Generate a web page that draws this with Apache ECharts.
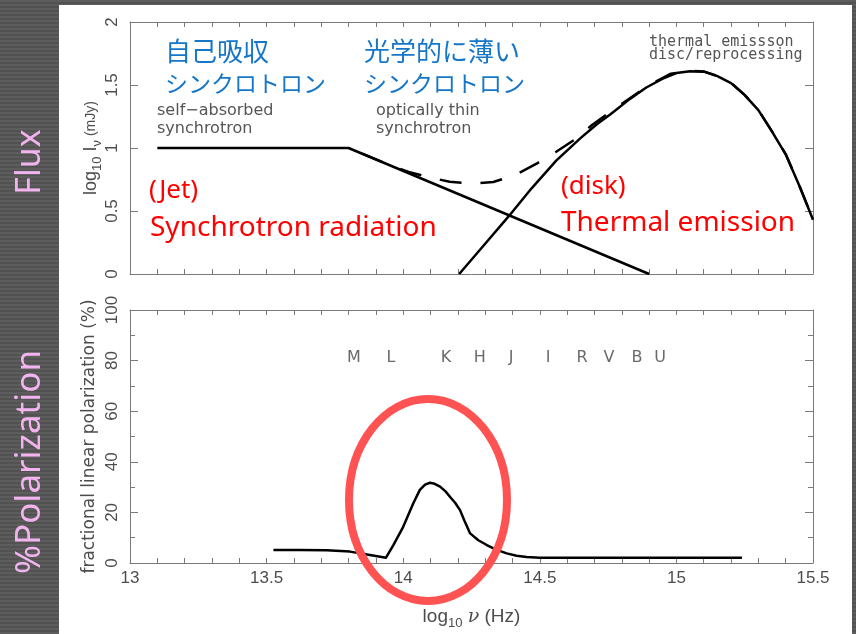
<!DOCTYPE html>
<html>
<head>
<meta charset="utf-8">
<script src="https://cdn.jsdelivr.net/npm/echarts@6/dist/echarts.min.js"></script>
<style>
  html, body { margin: 0; padding: 0; width: 856px; height: 634px; overflow: hidden; }
  body { background: repeating-linear-gradient(to bottom, #5d5d5d 0px, #5d5d5d 2px, #525252 2px, #525252 4px); position: relative; }
  #panel { position: absolute; left: 59px; top: 5px; width: 793px; height: 629px; background: #ffffff; }
  #chart { position: absolute; left: 0; top: 0; width: 856px; height: 634px; }
</style>
</head>
<body>
<div id="panel"></div>
<div id="chart"></div>
<script>
// ---- data ----
const xTickLabels = ['13', '13.5', '14', '14.5', '15', '15.5'];
const fluxTickLabels = ['0', '0.5', '1', '1.5', '2'];
const polTickLabels = ['0', '20', '40', '60', '80', '100'];

// self-absorbed / optically thin synchrotron (jet)
const jetX = [13.1, 13.8, 14.9];
const jetY = [1.0, 1.0, 0.0];

// thermal emission (disc / reprocessing)
const thermalX = [14.205, 14.3, 14.385, 14.47, 14.56, 14.65, 14.71, 14.76, 14.83, 14.89, 14.95, 15.0, 15.05, 15.1, 15.15, 15.2, 15.25, 15.3, 15.35, 15.4, 15.45, 15.5];
const thermalY = [0.0, 0.24, 0.455, 0.68, 0.9, 1.08, 1.19, 1.27, 1.39, 1.48, 1.55, 1.595, 1.61, 1.606, 1.57, 1.515, 1.42, 1.3, 1.13, 0.95, 0.7, 0.43];

// total (dashed)
const totalX = [13.85, 13.95, 14.02, 14.09, 14.17, 14.25, 14.33, 14.41, 14.49, 14.56, 14.63, 14.69, 14.76, 14.83, 14.9, 14.98, 15.05, 15.1, 15.15, 15.2, 15.25, 15.3, 15.35, 15.4, 15.45, 15.5];
const totalY = [0.955, 0.865, 0.81, 0.77, 0.732, 0.716, 0.73, 0.786, 0.878, 0.97, 1.07, 1.18, 1.29, 1.395, 1.5, 1.59, 1.612, 1.608, 1.572, 1.517, 1.422, 1.302, 1.132, 0.952, 0.702, 0.432];

// fractional linear polarization (%)
const polX = [13.525, 13.62, 13.72, 13.805, 13.878, 13.937, 13.964, 14.0, 14.037, 14.061, 14.08, 14.098, 14.115, 14.135, 14.155, 14.171, 14.19, 14.208, 14.225, 14.245, 14.275, 14.306, 14.34, 14.379, 14.415, 14.452, 14.5, 14.574, 14.8, 15.0, 15.24];
const polY = [5.1, 5.1, 5.0, 4.5, 3.2, 2.1, 7.1, 14.3, 23.6, 28.9, 31.0, 31.7, 31.3, 30.2, 28.3, 26.2, 23.8, 20.9, 16.5, 11.7, 9.0, 7.1, 5.3, 3.8, 2.9, 2.4, 2.1, 2.1, 2.1, 2.1, 2.1];

// photometric bands
const bandNames = ['M', 'L', 'K', 'H', 'J', 'I', 'R', 'V', 'B', 'U'];
const bandX = [13.82, 13.955, 14.157, 14.28, 14.395, 14.53, 14.655, 14.753, 14.856, 14.94];
const bandLevel = 81;

// ---- chart ----
const zip = (xs, ys) => xs.map((x, i) => [x, ys[i]]);
const AX = '#7a7a7a';
const TXT = '#4d4d4d';
const NUMFONT = 'Liberation Sans';

function xAxisCfg(gridIndex, position, showLabels, name) {
  const cfg = {
    type: 'value', gridIndex: gridIndex, position: position,
    min: 13, max: 15.5, interval: 0.5,
    axisLine: { show: true, onZero: false, lineStyle: { color: AX, width: 1 } },
    axisTick: { show: true, inside: true, length: 5, lineStyle: { color: AX, width: 1 } },
    minorTick: { show: true, splitNumber: 5, length: 5, lineStyle: { color: AX, width: 1 } },
    splitLine: { show: false },
    minorSplitLine: { show: false },
    axisLabel: {
      show: showLabels, margin: 7, color: TXT, fontSize: 17, fontFamily: NUMFONT,
      formatter: v => xTickLabels[Math.round((v - 13) / 0.5)] || ''
    }
  };
  if (name) {
    cfg.name = name;
    cfg.nameLocation = 'middle';
    cfg.nameGap = 41;
    cfg.nameMoveOverlap = false;
    cfg.nameTextStyle = {
      color: TXT, fontFamily: NUMFONT,
      rich: {
        a: { fontSize: 19, color: TXT, fontFamily: NUMFONT, lineHeight: 26 },
        s: { fontSize: 13, color: TXT, fontFamily: NUMFONT, verticalAlign: 'bottom', lineHeight: 15 },
        g: { fontSize: 19, color: TXT, fontFamily: 'DejaVu Serif', fontStyle: 'italic', lineHeight: 26 }
      }
    };
  }
  return cfg;
}

function yAxisCfg(gridIndex, position, max, interval, minorSplit, labels, name) {
  const cfg = {
    type: 'value', gridIndex: gridIndex, position: position,
    min: 0, max: max, interval: interval,
    axisLine: { show: true, onZero: false, lineStyle: { color: AX, width: 1 } },
    axisTick: { show: true, inside: true, length: 8, lineStyle: { color: AX, width: 1 } },
    minorTick: { show: minorSplit > 0, splitNumber: minorSplit || 1, length: 5, lineStyle: { color: AX, width: 1 } },
    splitLine: { show: false },
    minorSplitLine: { show: false },
    axisLabel: {
      show: !!labels, rotate: 90, margin: 9, color: TXT, fontSize: 17, fontFamily: NUMFONT,
      formatter: v => labels ? (labels[Math.round(v / interval)] || '') : ''
    }
  };
  if (name) {
    Object.assign(cfg, name);
  }
  return cfg;
}

const option = {
  animation: false,
  grid: [
    { left: 130, top: 22, width: 683, height: 252, containLabel: false, outerBoundsMode: 'none' },
    { left: 130, top: 310, width: 683, height: 253, containLabel: false, outerBoundsMode: 'none' }
  ],
  xAxis: [
    xAxisCfg(0, 'bottom', false),
    xAxisCfg(0, 'top', false),
    xAxisCfg(1, 'bottom', true, '{a|log}{s|10}{a| }{g|ν}{a| (Hz)}'),
    xAxisCfg(1, 'top', false)
  ],
  yAxis: [
    yAxisCfg(0, 'left', 2, 0.5, 0, fluxTickLabels, {
      name: '{a|log}{s|10}{a| I}{s|ν}{b| (mJy)}',
      nameLocation: 'middle', nameGap: 26, nameMoveOverlap: false,
      nameTextStyle: {
        color: TXT,
        rich: {
          a: { fontSize: 18, color: TXT, fontFamily: NUMFONT, lineHeight: 26 },
          s: { fontSize: 13, color: TXT, fontFamily: NUMFONT, verticalAlign: 'bottom', lineHeight: 14 },
          b: { fontSize: 14, color: TXT, fontFamily: NUMFONT, lineHeight: 26 }
        }
      }
    }),
    yAxisCfg(0, 'right', 2, 0.5, 0, null),
    yAxisCfg(1, 'left', 100, 20, 2, polTickLabels, {
      name: 'fractional linear polarization (%)',
      nameLocation: 'middle', nameGap: 32, nameMoveOverlap: false,
      nameTextStyle: { color: TXT, fontSize: 17, fontFamily: 'DejaVu Sans' }
    }),
    yAxisCfg(1, 'right', 100, 20, 2, null)
  ],
  series: [
    {
      name: 'synchrotron', type: 'line', xAxisIndex: 0, yAxisIndex: 0,
      data: zip(jetX, jetY), showSymbol: false, symbol: 'none', silent: true,
      lineStyle: { color: '#000', width: 2.5 }, z: 3
    },
    {
      name: 'thermal', type: 'line', xAxisIndex: 0, yAxisIndex: 0,
      data: zip(thermalX, thermalY), showSymbol: false, symbol: 'none', silent: true,
      lineStyle: { color: '#000', width: 2.5, join: 'round' }, z: 3
    },
    {
      name: 'total', type: 'line', xAxisIndex: 0, yAxisIndex: 0,
      data: zip(totalX, totalY), showSymbol: false, symbol: 'none', silent: true,
      lineStyle: { color: '#000', width: 2.5, type: [22, 19], join: 'round' }, z: 3
    },
    {
      name: 'polarization', type: 'line', xAxisIndex: 2, yAxisIndex: 2,
      data: zip(polX, polY), showSymbol: false, symbol: 'none', silent: true,
      lineStyle: { color: '#000', width: 2.5, join: 'round' }, z: 3
    },
    {
      name: 'bands', type: 'scatter', xAxisIndex: 2, yAxisIndex: 2,
      data: bandNames.map((n, i) => ({ name: n, value: [bandX[i], bandLevel] })),
      symbolSize: 0, silent: true,
      label: {
        show: true, position: 'inside', formatter: p => p.name,
        color: '#444', fontSize: 16, fontFamily: 'DejaVu Sans'
      }
    }
  ],
  graphic: [
    // left side labels
    { type: 'text', x: 30, y: 162, rotation: Math.PI / 2,
      style: { text: 'Flux', fill: '#f2b4ee', font: '34px "Noto Sans"', align: 'center', verticalAlign: 'middle', textAlign: 'center', textVerticalAlign: 'middle' } },
    { type: 'text', x: 30, y: 462, rotation: Math.PI / 2,
      style: { text: '%Polarization', fill: '#f2b4ee', font: '35px "Noto Sans"', align: 'center', verticalAlign: 'middle', textAlign: 'center', textVerticalAlign: 'middle' } },
    // blue Japanese
    { type: 'text', x: 165, y: 51, z: 10,
      style: { text: '自己吸収', fill: '#1677c8', font: '26px "Noto Sans CJK JP"', verticalAlign: 'middle', textVerticalAlign: 'middle' } },
    { type: 'text', x: 165, y: 83, z: 10,
      style: { text: 'シンクロトロン', fill: '#1677c8', font: '23px "Noto Sans CJK JP"', verticalAlign: 'middle', textVerticalAlign: 'middle' } },
    { type: 'text', x: 364, y: 51, z: 10,
      style: { text: '光学的に薄い', fill: '#1677c8', font: '26px "Noto Sans CJK JP"', verticalAlign: 'middle', textVerticalAlign: 'middle' } },
    { type: 'text', x: 364, y: 83, z: 10,
      style: { text: 'シンクロトロン', fill: '#1677c8', font: '23px "Noto Sans CJK JP"', verticalAlign: 'middle', textVerticalAlign: 'middle' } },
    // gray english annotations
    { type: 'text', x: 157, y: 111, z: 10,
      style: { text: 'self−absorbed', fill: '#555', font: '16px "DejaVu Sans"', verticalAlign: 'middle', textVerticalAlign: 'middle' } },
    { type: 'text', x: 157, y: 129, z: 10,
      style: { text: 'synchrotron', fill: '#555', font: '16px "DejaVu Sans"', verticalAlign: 'middle', textVerticalAlign: 'middle' } },
    { type: 'text', x: 376, y: 111, z: 10,
      style: { text: 'optically thin', fill: '#555', font: '16px "DejaVu Sans"', verticalAlign: 'middle', textVerticalAlign: 'middle' } },
    { type: 'text', x: 376, y: 129, z: 10,
      style: { text: 'synchrotron', fill: '#555', font: '16px "DejaVu Sans"', verticalAlign: 'middle', textVerticalAlign: 'middle' } },
    { type: 'text', x: 649, y: 42, z: 10,
      style: { text: 'thermal emissson', fill: '#555', font: '15px "DejaVu Sans Mono"', verticalAlign: 'middle', textVerticalAlign: 'middle' } },
    { type: 'text', x: 649, y: 55, z: 10,
      style: { text: 'disc/reprocessing', fill: '#555', font: '15px "DejaVu Sans Mono"', verticalAlign: 'middle', textVerticalAlign: 'middle' } },
    // red annotations
    { type: 'text', x: 149, y: 191, z: 10,
      style: { text: '(Jet)', fill: '#ff0000', font: '26px "Noto Sans"', verticalAlign: 'middle', textVerticalAlign: 'middle' } },
    { type: 'text', x: 150, y: 228, z: 10,
      style: { text: 'Synchrotron radiation', fill: '#ff0000', font: '28px "Noto Sans"', verticalAlign: 'middle', textVerticalAlign: 'middle' } },
    { type: 'text', x: 561, y: 187, z: 10,
      style: { text: '(disk)', fill: '#ff0000', font: '26px "Noto Sans"', verticalAlign: 'middle', textVerticalAlign: 'middle' } },
    { type: 'text', x: 561, y: 223, z: 10,
      style: { text: 'Thermal emission', fill: '#ff0000', font: '28px "Noto Sans"', verticalAlign: 'middle', textVerticalAlign: 'middle' } },
    // red highlight ellipse
    { type: 'ellipse', z: 20, shape: { cx: 428, cy: 500, rx: 79, ry: 101 },
      style: { fill: null, stroke: '#ff5252', lineWidth: 8 } }
  ]
};

const chart = echarts.init(document.getElementById('chart'), null, { renderer: 'canvas', width: 856, height: 634 });
chart.setOption(option);
</script>
</body>
</html>
